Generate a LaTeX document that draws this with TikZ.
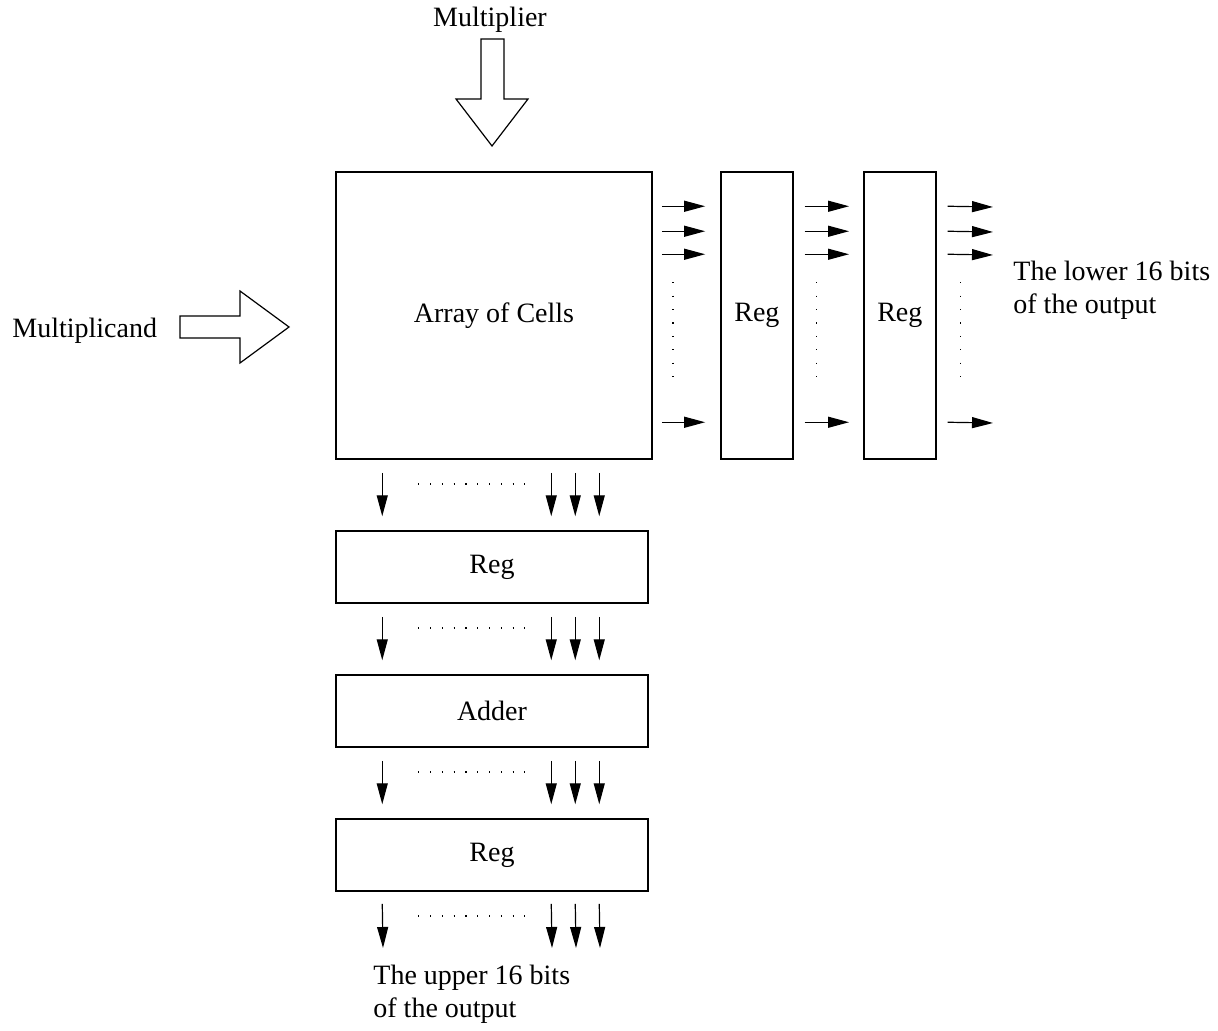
\documentclass[tikz,border=0pt]{standalone}
\usepackage{fontspec}
\setmainfont{Liberation Serif}
\usetikzlibrary{arrows.meta}
\usetikzlibrary{calc, positioning}

\begin{document}
\begin{tikzpicture}[x=0.5pt, y=-0.5pt, % 1 Einheit = 1 Pixel, y nach unten
  box/.style={draw, line width=0.75pt, inner sep=0pt, font=\fontsize{14}{16.5}\selectfont},
  txt/.style={inner sep=0pt, font=\fontsize{14}{16.5}\selectfont},
  sig/.style={-{Triangle[length=10.5pt,width=5.5pt]}, line width=0.6pt},
  hdots/.style={line width=0.8pt, dash pattern=on 0.6pt off 5.3pt},
  vdots/.style={line width=0.8pt, dash pattern=on 0.6pt off 6.1pt}]

\useasboundingbox (0,0) rectangle (1218,1031);

% Bloecke
\node[box, minimum width=158pt, minimum height=143.5pt] (cells) at (494,315.5) {Array of Cells};
\node[box, minimum width=36pt, minimum height=143.5pt, right=33.7pt of cells] (regr1) {Reg};
\node[box, minimum width=36pt, minimum height=143.5pt, right=34.7pt of regr1] (regr2) {Reg};
\node[box, minimum width=156pt, minimum height=36pt] (regd1) at (492,567) {Reg};
\node[box, minimum width=156pt, minimum height=36pt] (adder) at (492,711) {Adder};
\node[box, minimum width=156pt, minimum height=36pt] (regd2) at (492,855) {Reg};

% Eingaenge
\node[txt] (mplier) at (490,20) {Multiplier};
\node[txt, anchor=west] (mcand) at (12,331) {Multiplicand};
\draw[line width=0.6pt] (481,39) -- (504,39) -- (504,99) -- (528,99) -- (492,146) -- (456,99) -- (481,99) -- cycle; % Pfeil unten
\draw[line width=0.6pt] (180,316) -- (240,316) -- (240,291) -- (289,327) -- (240,363) -- (240,338) -- (180,338) -- cycle; % Pfeil rechts

% Ausgaenge
\coordinate (lowout) at (1000,172);
\coordinate (upout) at (336,962);
\node[txt, anchor=north west, align=left] (lowtxt) at (1013,261) {The lower 16 bits\\of the output};
\node[txt, anchor=north west, align=left] (uptxt) at (373,965) {The upper 16 bits\\of the output};

% Signale nach rechts
\foreach \dy in {35,60,83,251} {
  \draw[sig] ($(cells.north east)+(9,\dy)$) -- ($(regr1.north west)+(-15,\dy)$);
  \draw[sig] ($(regr1.north east)+(11,\dy)$) -- ($(regr2.north west)+(-14,\dy)$);
  \draw[sig] ($(regr2.north east)+(11,\dy)$) -- ($(lowout)+(-7,\dy)$);
}
\draw[vdots] ($(cells.north east)+(20,111)$) -- ($(cells.north east)+(20,218)$);
\draw[vdots] ($(regr1.north east)+(23,111)$) -- ($(regr1.north east)+(23,218)$);
\draw[vdots] ($(regr2.north east)+(24,111)$) -- ($(regr2.north east)+(24,218)$);

% Signale nach unten
\foreach \dx in {47,216,240,264} {
  \draw[sig] ($(cells.south west)+(\dx,13)$) -- ($(regd1.north west)+(\dx,-14)$);
  \draw[sig] ($(regd1.south west)+(\dx,13)$) -- ($(adder.north west)+(\dx,-14)$);
  \draw[sig] ($(adder.south west)+(\dx,13)$) -- ($(regd2.north west)+(\dx,-14)$);
  \draw[sig] ($(regd2.south west)+(\dx,12)$) -- ($(upout)+(\dx,-14)$);
}
\foreach \b in {cells,regd1,adder,regd2}
  \draw[hdots] ($(\b.south west)+(83,24)$) -- ($(\b.south west)+(190,24)$);

\end{tikzpicture}
\end{document}
